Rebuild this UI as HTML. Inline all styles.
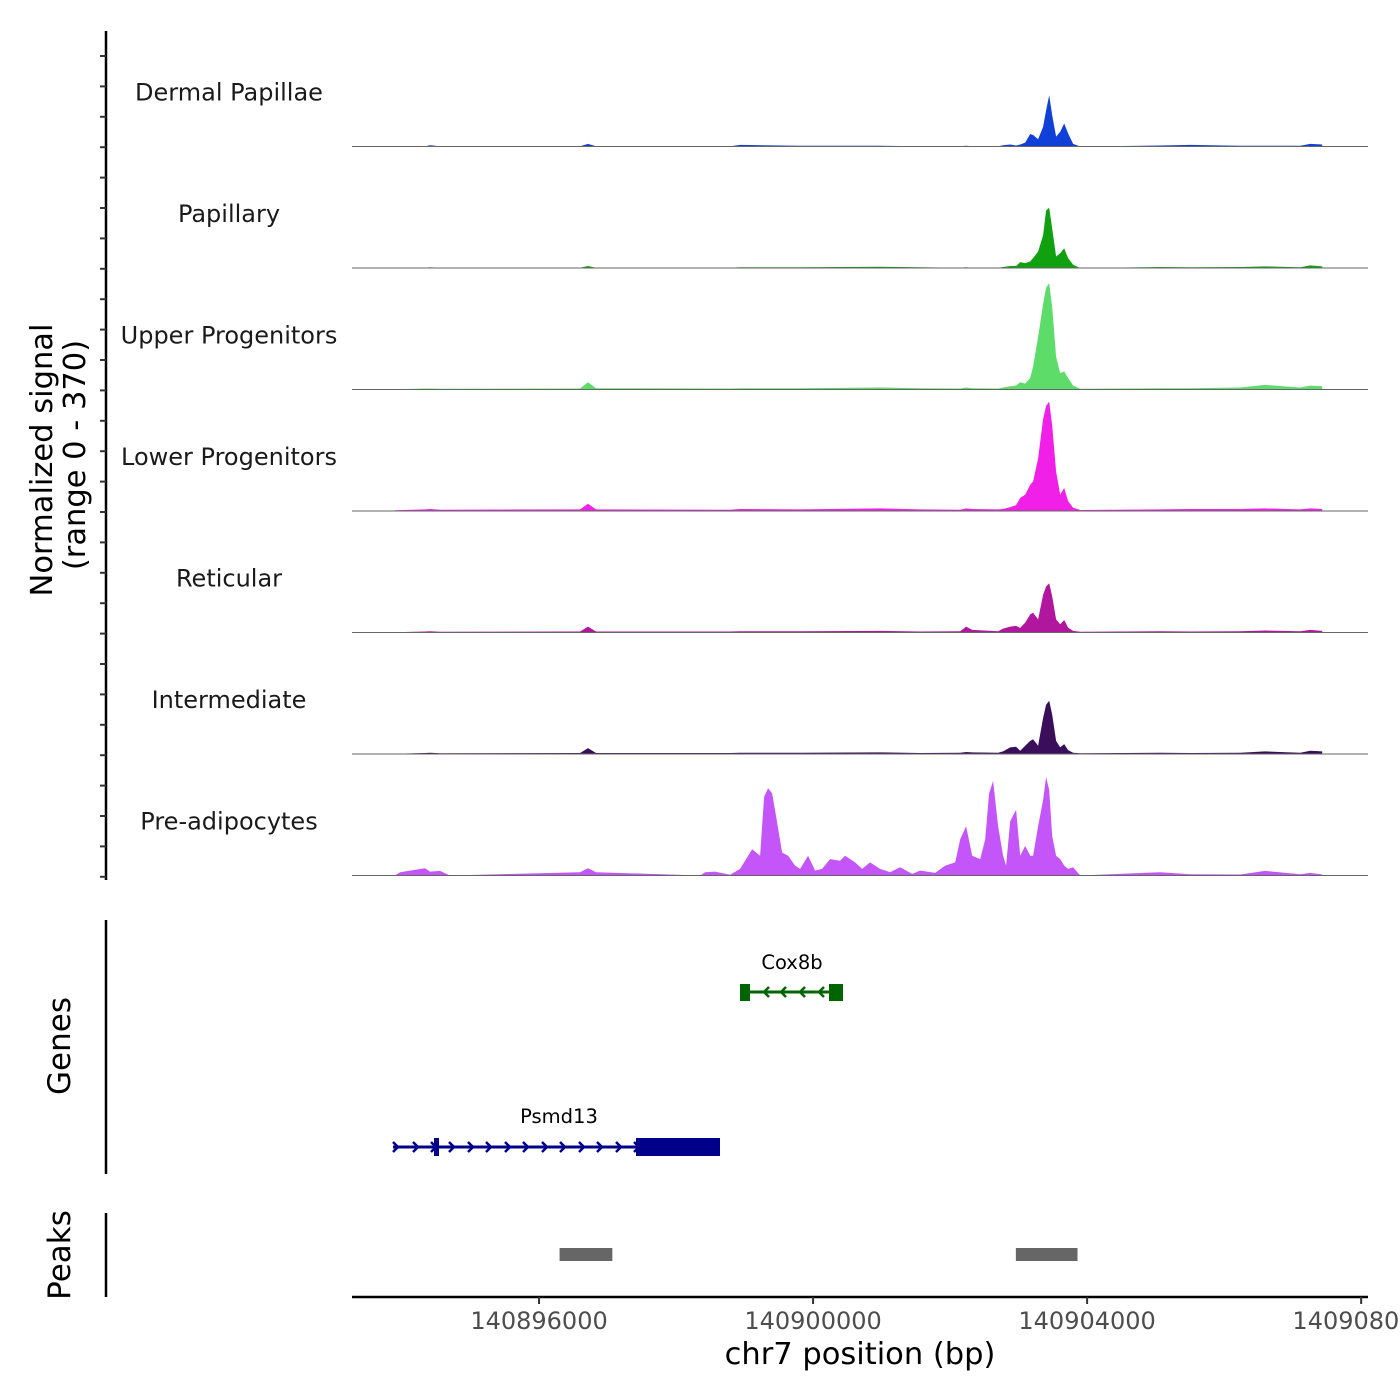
<!DOCTYPE html>
<html><head><meta charset="utf-8"><style>
html,body{margin:0;padding:0;background:#fff;}
svg{display:block;font-family:"DejaVu Sans","Liberation Sans",sans-serif;}
</style></head><body>
<svg id="chart" width="1400" height="1400" viewBox="0 0 1400 1400" xmlns="http://www.w3.org/2000/svg">
<rect width="1400" height="1400" fill="#fff"/>
<g id="tracks"></g>
<g id="leftaxis"></g>
<text transform="translate(52,460) rotate(-90)" font-size="30.5" text-anchor="middle" fill="#000">Normalized signal</text>
<text transform="translate(85,455) rotate(-90)" font-size="30.5" text-anchor="middle" fill="#000">(range 0 - 370)</text>
<line x1="106" y1="920" x2="106" y2="1174" stroke="#000" stroke-width="2.5"/>
<text transform="translate(70,1046) rotate(-90)" font-size="31" text-anchor="middle">Genes</text>
<line x1="106" y1="1213" x2="106" y2="1297" stroke="#000" stroke-width="2.5"/>
<text transform="translate(70,1255) rotate(-90)" font-size="31" text-anchor="middle">Peaks</text>
<g id="genes"></g>
<g id="peaks"></g>
<g id="xaxis"></g>
<text x="860" y="1364" font-size="30.5" text-anchor="middle">chr7 position (bp)</text>
</svg>
<script>
const NS='http://www.w3.org/2000/svg';
const trackNames=["Dermal Papillae","Papillary","Upper Progenitors","Lower Progenitors","Reticular","Intermediate","Pre-adipocytes"];
const trackColors=["#1140d9","#10a010","#5ddc6a","#f020e8","#b0169e","#3a0e5a","#c455f8"];
const xTicks=[140896000,140900000,140904000,140908000];
const xTickLabels=["140896000","140900000","140904000","140908000"];
const posCommon=[140893898,140894336,140894409,140894555,140896599,140896715,140896832,140898789,140898935,140899811,140900979,140901563,140902147,140902234,140902322,140902701,140902774,140902877,140902964,140903023,140903096,140903169,140903212,140903285,140903358,140903402,140903446,140903490,140903548,140903607,140903665,140903723,140903796,140903899,140905067,140905505,140906235,140906600,140907111,140907257,140907432];
const valDP=[0,1,4,1,1,8,1,1,5,2,2,1,1,2,1,1,4,6,3,6,12,38,35,22,60,110,156,95,30,45,70,40,8,0,3,5,2,2,2,8,6];
const valPap=[0,1,2,1,1,6,1,1,2,2,4,2,1,2,1,1,3,6,6,18,15,20,30,50,100,175,184,120,35,45,60,30,10,0,3,2,3,5,2,8,5];
const valUP=[1,3,3,2,3,22,4,3,4,4,6,4,3,6,4,3,6,10,12,22,18,35,70,160,260,310,324,250,100,50,55,35,12,2,4,4,6,14,6,12,10];
const valLP=[2,5,6,4,5,22,5,4,6,5,8,5,4,8,6,5,6,12,18,40,50,80,90,160,280,320,333,260,120,50,70,30,10,3,5,6,6,8,5,8,6];
const valRet=[1,3,4,2,3,18,3,3,4,4,5,3,4,18,8,4,12,18,20,14,30,55,60,40,115,140,150,110,40,25,38,15,5,2,4,3,4,6,4,8,5];
const valInt=[1,3,4,2,3,18,3,3,4,4,5,3,4,6,5,4,8,20,22,10,25,40,45,25,110,150,162,120,40,20,30,12,4,2,4,3,4,8,4,10,8];
const posPA=[140893898,140893971,140894117,140894336,140894409,140894555,140894701,140896599,140896715,140896832,140898351,140898424,140898570,140898789,140898935,140899008,140899110,140899227,140899285,140899343,140899402,140899460,140899548,140899635,140899738,140899811,140899927,140900030,140900132,140900249,140900395,140900468,140900614,140900716,140900833,140900979,140901125,140901271,140901446,140901563,140901782,140901928,140902074,140902147,140902234,140902322,140902439,140902512,140902570,140902628,140902701,140902774,140902818,140902877,140902964,140903023,140903096,140903169,140903212,140903285,140903358,140903402,140903446,140903490,140903548,140903607,140903665,140903723,140903796,140903899,140905067,140905505,140906235,140906600,140907111,140907257,140907432];
const valPA=[0,10,15,22,12,14,0,10,22,10,0,10,12,2,20,45,80,60,240,266,250,180,70,60,30,20,60,15,20,50,45,60,40,20,40,20,10,25,5,15,8,30,40,110,150,60,50,110,250,288,150,60,30,165,200,60,90,60,60,150,230,300,260,120,60,50,30,20,25,0,10,4,3,14,4,8,3];
const gStart=140893270, gEnd=140908100;
function xs(bp){return 352+(bp-gStart)*(1368-352)/(gEnd-gStart);}
const trackTop=25, trackH=121.5, ymax=370;
const tg=document.getElementById('tracks');
const allPos=[posCommon,posCommon,posCommon,posCommon,posCommon,posCommon,posPA];
const allVal=[valDP,valPap,valUP,valLP,valRet,valInt,valPA];
trackNames.forEach((nm,i)=>{
  const base=trackTop+trackH*(i+1);
  const g=document.createElementNS(NS,'g');
  
  
  const P=allPos[i],V=allVal[i];
  let d='M'+xs(P[0])+','+base;
  P.forEach((p,k)=>{d+=' L'+xs(p).toFixed(1)+','+(base-V[k]/ymax*trackH).toFixed(1);});
  d+=' L'+xs(P[P.length-1])+','+base+' Z';
  const path=document.createElementNS(NS,'path');
  
  
  path.setAttribute('d',d);path.setAttribute('fill',trackColors[i]);
  g.appendChild(path);
  const bl=document.createElementNS(NS,'line');
  
  
  bl.setAttribute('x1',352);bl.setAttribute('x2',1368);bl.setAttribute('y1',base);bl.setAttribute('y2',base);
  bl.setAttribute('stroke','#666');bl.setAttribute('stroke-width','1');
  g.appendChild(bl);
  const t=document.createElementNS(NS,'text');
  
  
  t.setAttribute('x',229);t.setAttribute('y',base-46);t.setAttribute('font-size','24');
  t.setAttribute('text-anchor','middle');t.setAttribute('fill','#1a1a1a');t.textContent=nm;
  g.appendChild(t);
  tg.appendChild(g);
});
const la=document.getElementById('leftaxis');
let h='<line x1="106" y1="31" x2="106" y2="880" stroke="#000" stroke-width="2.5"/>';
for(let k=0;k<28;k++){const y=56+k*30.4;h+='<line x1="100" x2="106" y1="'+y+'" y2="'+y+'" stroke="#333" stroke-width="2"/>';}
la.innerHTML=h;
const ge=document.getElementById('genes');
let gh='';
gh+='<g><text x="792" y="969" font-size="19.5" text-anchor="middle">Cox8b</text>';
gh+='<line x1="745" x2="840" y1="992" y2="992" stroke="#006400" stroke-width="3"/>';
gh+='<rect x="740" y="984" width="10" height="17" fill="#006400"/><rect x="829" y="984" width="14" height="17" fill="#006400"/>';
[764,781,800,819].forEach(x=>{gh+='<polyline points="'+(x+5)+',987 '+x+',992 '+(x+5)+',997" fill="none" stroke="#006400" stroke-width="2.5"/>';});
gh+='</g>';
gh+='<g><text x="559" y="1123" font-size="19.5" text-anchor="middle">Psmd13</text>';
gh+='<line x1="393" x2="720" y1="1147" y2="1147" stroke="#00008b" stroke-width="3"/>';
gh+='<rect x="434" y="1138" width="5" height="18" fill="#00008b"/><rect x="636" y="1138" width="84" height="18" fill="#00008b"/>';
[393,413,431,449,468,486,505,523,542,560,579,597,616,634].forEach(x=>{gh+='<polyline points="'+x+',1142 '+(x+5)+',1147 '+x+',1152" fill="none" stroke="#00008b" stroke-width="2.5"/>';});
gh+='</g>';
ge.innerHTML=gh;
const peakStarts=[140896300,140902960];
const peakEnds=[140897070,140903860];
const pk=document.getElementById('peaks');
peakStarts.forEach((s,i)=>{
  const r=document.createElementNS(NS,'rect');
  
  
  r.setAttribute('x',xs(s));r.setAttribute('width',xs(peakEnds[i])-xs(s));
  r.setAttribute('y',1248);r.setAttribute('height',13);r.setAttribute('fill','#666');
  pk.appendChild(r);
});
const xa=document.getElementById('xaxis');
let xh='<line x1="352" x2="1368" y1="1297" y2="1297" stroke="#000" stroke-width="2.5"/>';
xTicks.forEach((t,i)=>{const x=xs(t);xh+='<line x1="'+x+'" x2="'+x+'" y1="1297" y2="1304" stroke="#333" stroke-width="2"/><text x="'+x+'" y="1329" font-size="24" fill="#4d4d4d" text-anchor="middle">'+xTickLabels[i]+'</text>';});
xa.innerHTML=xh;
</script>
</body></html>
